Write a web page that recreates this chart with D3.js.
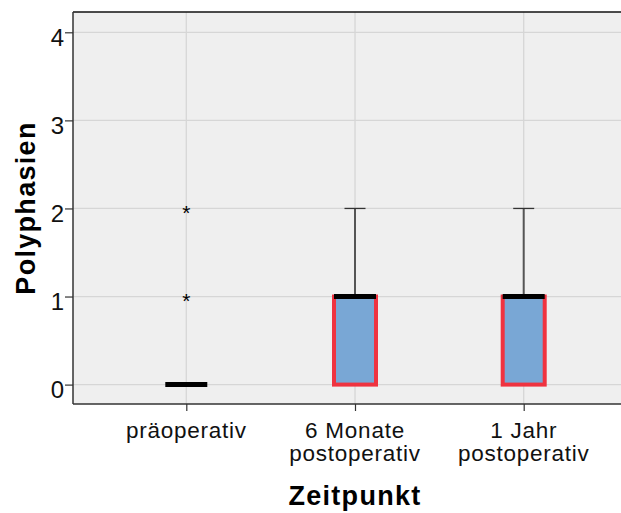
<!DOCTYPE html>
<html>
<head>
<meta charset="utf-8">
<script src="https://cdn.jsdelivr.net/npm/d3@7/dist/d3.min.js"></script>
<style>
  html, body { margin: 0; padding: 0; background: #fff; }
  svg { display: block; font-family: "Liberation Sans", Arial, sans-serif; }
</style>
</head>
<body>
<svg id="chart" width="621" height="513"></svg>
<script>
// Time points (two-line labels split on "\n")
const categories = ["präoperativ", "6 Monate\npostoperativ", "1 Jahr\npostoperativ"];
// Five-number summaries per time point
const minValues    = [0, 0, 0];
const q1Values     = [0, 0, 0];
const medianValues = [0, 1, 1];
const q3Values     = [0, 1, 1];
const maxValues    = [0, 2, 2];
// Extreme values (drawn as asterisks)
const extremeValues = [[1, 2], [], []];
const yTicks = [0, 1, 2, 3, 4];

const svg = d3.select("#chart");
const FONT = "Liberation Sans, Arial, sans-serif";

const plot = { left: 73, top: 12, right: 640, bottom: 404 };

const x = d3.scalePoint()
  .domain(categories)
  .range([186.3, 523.7]);

const y = d3.scaleLinear()
  .domain([0, 4])
  .range([384.6, 32.3]);

const boxW = 42;
const capW = 21;

// plot background
svg.append("rect")
  .attr("x", plot.left).attr("y", plot.top)
  .attr("width", plot.right - plot.left).attr("height", plot.bottom - plot.top)
  .attr("fill", "#efefef");

// grid lines
svg.append("g").selectAll("line").data(yTicks).join("line")
  .attr("x1", plot.left).attr("x2", plot.right)
  .attr("y1", d => y(d)).attr("y2", d => y(d))
  .attr("stroke", "#d6d6d6").attr("stroke-width", 1.3);
svg.append("g").selectAll("line").data(categories).join("line")
  .attr("x1", d => x(d)).attr("x2", d => x(d))
  .attr("y1", plot.top).attr("y2", plot.bottom)
  .attr("stroke", "#d6d6d6").attr("stroke-width", 1.3);

// top frame line
svg.append("line")
  .attr("x1", plot.left).attr("x2", plot.right)
  .attr("y1", plot.top).attr("y2", plot.top)
  .attr("stroke", "#111").attr("stroke-width", 1.3);

// y axis
const yAxis = svg.append("g")
  .attr("transform", `translate(${plot.left},0)`)
  .call(d3.axisLeft(y).tickValues(yTicks).tickSize(8).tickPadding(1).tickFormat(d3.format("d")));
yAxis.select(".domain")
  .attr("d", `M0,${plot.top}V${plot.bottom}`)
  .attr("stroke", "#333").attr("stroke-width", 1.5);
yAxis.selectAll(".tick line").attr("stroke", "#333").attr("stroke-width", 1.2);
yAxis.selectAll(".tick text")
  .attr("font-size", 24).attr("fill", "#111")
  .attr("dy", "0.53em")
  .attr("font-family", FONT);

// x axis
const xAxis = svg.append("g")
  .attr("transform", `translate(0,${plot.bottom})`)
  .call(d3.axisBottom(x).tickSize(7).tickFormat(""));
xAxis.select(".domain")
  .attr("d", `M${plot.left},0H${plot.right}`)
  .attr("stroke", "#333").attr("stroke-width", 1.5);
xAxis.selectAll(".tick line").attr("stroke", "#333").attr("stroke-width", 1.2);

// category labels, one text element per line
const labelLines = categories.flatMap(c => c.split("\n").map((t, i) => ({ c, t, i })));
svg.append("g").selectAll("text").data(labelLines).join("text")
  .attr("x", d => x(d.c))
  .attr("y", d => 438 + d.i * 23)
  .attr("text-anchor", "middle")
  .attr("font-size", 22.5).attr("letter-spacing", 0.75).attr("fill", "#111")
  .text(d => d.t);

// boxes
const stats = categories.map((c, i) => ({
  c, min: minValues[i], q1: q1Values[i], med: medianValues[i],
  q3: q3Values[i], max: maxValues[i], ext: extremeValues[i]
}));

const g = svg.append("g");

// upper whiskers
g.selectAll(".whisk-up").data(stats.filter(s => s.max > s.q3)).join("line")
  .attr("x1", s => x(s.c)).attr("x2", s => x(s.c))
  .attr("y1", s => y(s.q3)).attr("y2", s => y(s.max))
  .attr("stroke", "#555").attr("stroke-width", 2);
g.selectAll(".cap-up").data(stats.filter(s => s.max > s.q3)).join("line")
  .attr("x1", s => x(s.c) - capW / 2).attr("x2", s => x(s.c) + capW / 2)
  .attr("y1", s => y(s.max)).attr("y2", s => y(s.max))
  .attr("stroke", "#333").attr("stroke-width", 1.3);
// lower whiskers
g.selectAll(".whisk-lo").data(stats.filter(s => s.min < s.q1)).join("line")
  .attr("x1", s => x(s.c)).attr("x2", s => x(s.c))
  .attr("y1", s => y(s.q1)).attr("y2", s => y(s.min))
  .attr("stroke", "#555").attr("stroke-width", 2);

// interquartile boxes
g.selectAll(".box").data(stats.filter(s => s.q3 > s.q1)).join("rect")
  .attr("x", s => x(s.c) - boxW / 2).attr("width", boxW)
  .attr("y", s => y(s.q3)).attr("height", s => y(s.q1) - y(s.q3))
  .attr("fill", "#79a7d5")
  .attr("stroke", "#ef3340").attr("stroke-width", 4);

// medians
g.selectAll(".median").data(stats).join("line")
  .attr("x1", s => x(s.c) - boxW / 2).attr("x2", s => x(s.c) + boxW / 2)
  .attr("y1", s => y(s.med)).attr("y2", s => y(s.med))
  .attr("stroke", "#000").attr("stroke-width", 5);

// extreme values
const ext = stats.flatMap(s => s.ext.map(v => ({ c: s.c, v })));
g.selectAll(".extreme").data(ext).join("text")
  .attr("x", d => x(d.c)).attr("y", d => y(d.v) + 11.5)
  .attr("text-anchor", "middle")
  .attr("font-size", 21).attr("fill", "#000")
  .text("*");

// axis titles
svg.append("text")
  .attr("transform", `translate(35,${(plot.top + plot.bottom) / 2}) rotate(-90)`)
  .attr("text-anchor", "middle")
  .attr("font-size", 27).attr("letter-spacing", 1.3)
  .attr("font-weight", "bold").attr("fill", "#000")
  .text("Polyphasien");

svg.append("text")
  .attr("x", (x(categories[0]) + x(categories[2])) / 2).attr("y", 504.5)
  .attr("text-anchor", "middle")
  .attr("font-size", 27).attr("letter-spacing", 1.3)
  .attr("font-weight", "bold").attr("fill", "#000")
  .text("Zeitpunkt");
</script>
</body>
</html>
